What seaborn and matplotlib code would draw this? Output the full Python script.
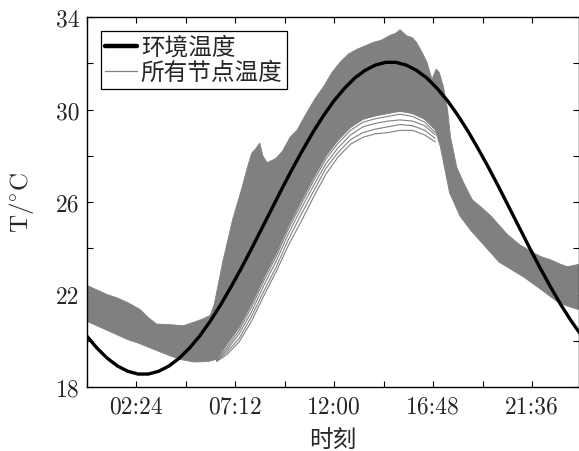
import numpy as np
import pandas as pd
import matplotlib
matplotlib.use("Agg")
import matplotlib.pyplot as plt
import seaborn as sns
from matplotlib.lines import Line2D

# ---------------- data (hours of day, temperature in degC) ----------------
env_hours = [0.0, 0.5, 1.0, 1.5, 2.0, 2.5, 3.0, 3.5, 4.0, 4.5, 5.0, 5.5, 6.0, 6.5,
             7.0, 7.5, 8.0, 8.5, 9.0, 9.5, 10.0, 10.5, 11.0, 11.5, 12.0, 12.5,
             13.0, 13.5, 14.0, 14.5, 15.0, 15.5, 16.0, 16.5, 17.0, 17.5, 18.0,
             18.5, 19.0, 19.5, 20.0, 20.5, 21.0, 21.5, 22.0, 22.5, 23.0, 23.5, 24.0]
env_temp = [20.22, 19.69, 19.25, 18.91, 18.68, 18.56, 18.56, 18.68, 18.91, 19.25,
            19.69, 20.22, 20.85, 21.55, 22.32, 23.13, 23.98, 24.86, 25.74, 26.62,
            27.47, 28.28, 29.05, 29.75, 30.38, 30.91, 31.36, 31.69, 31.92, 32.04,
            32.04, 31.92, 31.69, 31.36, 30.91, 30.38, 29.75, 29.05, 28.28, 27.47,
            26.62, 25.74, 24.86, 23.98, 23.13, 22.32, 21.55, 20.85, 20.22]

# upper envelope of the node-temperature band
band_up_hours = [0.0, 0.5, 1.0, 1.5, 2.0, 2.6, 3.0, 3.4, 4.0, 4.7, 5.2, 5.66, 6.0,
                 6.2, 6.6, 7.1, 7.5, 7.77, 8.0, 8.2, 8.4, 8.55, 8.75, 9.0, 9.2,
                 9.5, 9.87, 10.2, 10.7, 11.1, 11.5, 11.9, 12.3, 12.7, 13.1, 13.5,
                 13.9, 14.3, 14.7, 15.0, 15.2, 15.5, 15.8, 16.0, 16.25, 16.5,
                 16.75, 16.95, 17.1, 17.3, 17.5, 17.65, 17.95, 18.3, 18.7, 19.1,
                 19.6, 20.0, 20.4, 21.0, 21.6, 22.0, 22.5, 23.0, 23.3, 23.85]
band_up_temp = [22.40, 22.20, 22.00, 21.85, 21.65, 21.35, 21.00, 20.72, 20.70,
                20.65, 20.80, 20.95, 21.10, 21.60, 23.40, 25.30, 26.50, 27.40,
                28.10, 28.30, 28.55, 28.00, 27.70, 27.80, 27.90, 28.20, 28.80,
                29.10, 29.90, 30.50, 31.00, 31.60, 32.05, 32.40, 32.60, 32.75,
                32.90, 33.00, 33.20, 33.30, 33.45, 33.20, 33.10, 32.90, 32.50,
                32.05, 31.30, 31.75, 31.60, 31.00, 30.00, 28.80, 27.50, 26.80,
                26.10, 25.80, 25.40, 25.00, 24.60, 24.15, 23.84, 23.65, 23.50,
                23.30, 23.20, 23.30]

# lower envelope of the dense part of the band
band_low_hours = [0.0, 0.5, 1.0, 1.5, 2.0, 2.5, 3.2, 3.9, 4.5, 5.2, 5.9, 6.3, 6.8,
                  7.4, 8.0, 8.6, 9.2, 9.8, 10.4, 11.0, 11.6, 12.2, 12.8, 13.4,
                  14.0, 14.6, 15.2, 15.8, 16.4, 16.9, 17.15, 17.6, 18.1, 18.6,
                  19.1, 20.0, 21.2, 22.0, 22.8, 23.3, 23.85]
band_low_temp = [20.85, 20.65, 20.45, 20.25, 20.05, 19.90, 19.65, 19.40, 19.20,
                 19.08, 19.10, 19.20, 19.82, 20.57, 21.57, 22.72, 23.77, 24.97,
                 26.02, 27.02, 27.97, 28.67, 29.22, 29.57, 29.72, 29.82, 29.92,
                 29.82, 29.57, 29.12, 28.40, 26.40, 25.40, 24.80, 24.30, 23.40,
                 22.75, 22.24, 21.70, 21.50, 21.35]

# a few separate node curves visible below the dense band
node_hours = [6.3, 6.8, 7.4, 8.0, 8.6, 9.2, 9.8, 10.4, 11.0, 11.6, 12.2, 12.8,
              13.4, 14.0, 14.6, 15.2, 15.8, 16.4, 16.9]
node_a = [19.10, 19.40, 19.95, 20.85, 21.95, 23.00, 24.15, 25.15, 26.20, 27.20,
          27.95, 28.50, 28.80, 28.95, 29.00, 29.10, 29.10, 28.90, 28.60]
node_b = [19.12, 19.50, 20.10, 21.05, 22.15, 23.20, 24.40, 25.45, 26.45, 27.45,
          28.15, 28.70, 29.00, 29.15, 29.25, 29.35, 29.30, 29.10, 28.75]
node_c = [19.15, 19.60, 20.30, 21.25, 22.40, 23.45, 24.65, 25.70, 26.70, 27.65,
          28.35, 28.90, 29.25, 29.40, 29.50, 29.55, 29.50, 29.30, 28.90]
node_d = [19.18, 19.70, 20.45, 21.45, 22.60, 23.65, 24.85, 25.90, 26.90, 27.85,
          28.55, 29.10, 29.45, 29.60, 29.70, 29.80, 29.70, 29.45, 29.00]

x_tick_pos = [2.4, 7.2, 12.0, 16.8, 21.6]
x_tick_labels = ["02:24", "07:12", "12:00", "16:48", "21:36"]
x_minor_pos = [0.0, 4.8, 9.6, 14.4, 19.2]
y_tick_pos = [18, 22, 26, 30, 34]
y_minor_pos = [20, 24, 28, 32]

legend_labels = ["环境温度", "所有节点温度"]
x_label = "时刻"
y_label = r"T/$^{\circ}$C"

# ---------------- styling ----------------
sns.set_theme(style="ticks")
plt.rcParams["font.family"] = ["Noto Sans CJK SC", "DejaVu Sans"]
plt.rcParams["mathtext.fontset"] = "cm"

GRAY = "#808080"
W, H = 579, 452
fig = plt.figure(figsize=(W / 100, H / 100), dpi=100)
ax = fig.add_axes([86.5 / W, 1 - 388 / H, (578.5 - 86.5) / W, 370 / H])

# dense band of node curves
poly_x = band_up_hours + band_low_hours[::-1]
poly_y = band_up_temp + band_low_temp[::-1]
ax.fill(poly_x, poly_y, color=GRAY, lw=0.6, ec=GRAY, zorder=1)

nodes = pd.DataFrame({
    "hour": node_hours * 4,
    "T": node_a + node_b + node_c + node_d,
    "node": ["a"] * len(node_hours) + ["b"] * len(node_hours)
            + ["c"] * len(node_hours) + ["d"] * len(node_hours),
})
sns.lineplot(data=nodes, x="hour", y="T", units="node", estimator=None,
             color=GRAY, lw=0.8, ax=ax, zorder=2, legend=False)

env = pd.DataFrame({"hour": env_hours, "T": env_temp})
sns.lineplot(data=env, x="hour", y="T", color="black", lw=2.4, ax=ax,
             zorder=3, legend=False)

ax.set_xlim(0, 23.85)
ax.set_ylim(18, 34)

ax.set_xticks(x_tick_pos)
ax.set_xticklabels(x_tick_labels, fontfamily="cmr10", fontsize=17)
ax.set_xticks(x_minor_pos, minor=True)
ax.set_yticks(y_tick_pos)
ax.set_yticklabels([str(v) for v in y_tick_pos], fontfamily="cmr10", fontsize=17)
ax.set_yticks(y_minor_pos, minor=True)
ax.tick_params(which="both", direction="in", length=4, width=0.8,
               top=True, right=True, color="black")
ax.tick_params(axis="x", which="major", pad=6)
ax.tick_params(axis="y", which="major", pad=5)
for s in ax.spines.values():
    s.set_color("black")
    s.set_linewidth(1.0)

ax.set_xlabel(x_label, fontsize=17, labelpad=8)
ax.set_ylabel(y_label, fontsize=18, labelpad=14, fontfamily="cmr10")

handles = [Line2D([], [], color="black", lw=3.2),
           Line2D([], [], color=GRAY, lw=0.9)]
leg = ax.legend(handles, legend_labels, loc="upper left", fontsize=17,
                frameon=True, fancybox=False, framealpha=1, edgecolor="black",
                handlelength=1.35, handletextpad=0.15, labelspacing=0.1,
                borderpad=0.2, borderaxespad=0.6)
leg.get_frame().set_linewidth(0.9)

fig.savefig("out.png", dpi=100)
